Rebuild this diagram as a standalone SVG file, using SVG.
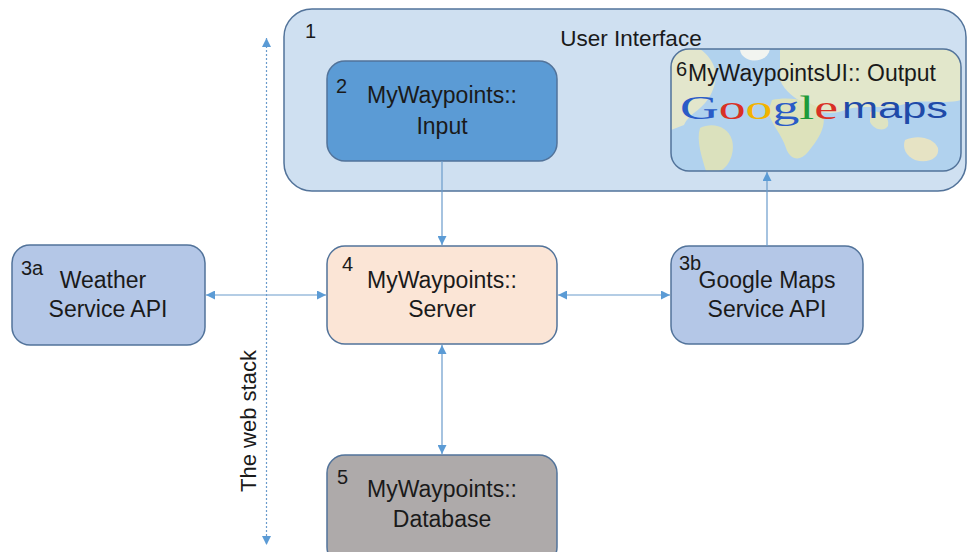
<svg xmlns="http://www.w3.org/2000/svg" width="967" height="552" viewBox="0 0 967 552">
<defs>
<style>
.lbl{font-family:"Liberation Sans","Open Sans",sans-serif;font-size:23px;fill:#1a1a1a;text-anchor:middle}
.num{font-family:"Liberation Sans","Open Sans",sans-serif;font-size:20px;fill:#1a1a1a}
.conn{stroke:#6a9bcc;stroke-width:1.2;fill:none}
.box{stroke:#52739a;stroke-width:1.5}
</style>
<marker id="ah" viewBox="0 0 10 10" refX="10" refY="5" markerWidth="9" markerHeight="9" markerUnits="userSpaceOnUse" orient="auto-start-reverse">
<path d="M0,0 L10,5 L0,10 z" fill="#5b9bd5"/>
</marker>
<clipPath id="mapclip"><rect x="671" y="49" width="290" height="122" rx="18"/></clipPath>
</defs>

<g id="node-ui">
<rect class="box" x="284" y="9" width="682" height="182" rx="28" fill="#cfe0f1"/>
<text class="num" x="305" y="38">1</text>
<text class="lbl" x="631" y="46" style="font-size:22.5px">User Interface</text>
</g>

<g id="node-input">
<rect class="box" x="327" y="61" width="230" height="100" rx="18" fill="#5b9bd5"/>
<text class="num" x="336" y="93">2</text>
<text class="lbl" x="442" y="103">MyWaypoints::</text>
<text class="lbl" x="442" y="134">Input</text>
</g>

<g id="node-output">
<g clip-path="url(#mapclip)">
<rect x="671" y="49" width="290" height="122" fill="#b1d2ee"/>
<path d="M671,49 L700,49 C715,60 720,75 712,92 C704,110 690,112 684,125 L671,130 Z" fill="#e3e6cc"/>
<path d="M700,128 C712,122 728,126 732,140 C736,155 726,171 718,171 L706,171 C702,158 696,140 700,128 Z" fill="#dbe1bd"/>
<path d="M740,49 L770,49 C768,58 760,62 750,60 C744,58 740,54 740,49 Z" fill="#f2f4f0"/>
<path d="M780,49 L961,49 L961,100 C945,105 925,98 905,104 C885,110 860,104 845,110 C830,116 815,112 805,104 C795,98 785,92 780,80 Z" fill="#e2e7cb"/>
<path d="M772,100 C790,96 812,100 822,112 C828,125 818,140 808,152 C800,162 790,160 786,148 C782,135 772,125 768,112 Z" fill="#dde2bb"/>
<path d="M905,140 C918,134 934,138 938,148 C940,158 928,164 915,160 C906,156 902,148 905,140 Z" fill="#e6e3c4"/>
<path d="M870,112 C880,110 890,116 888,126 C884,132 874,130 870,122 Z" fill="#dee3c2"/>
</g>
<rect class="box" x="671" y="49" width="290" height="122" rx="18" fill="none"/>
<text class="num" x="676" y="76">6</text>
<text class="lbl" x="812" y="81" textLength="248" lengthAdjust="spacingAndGlyphs">MyWaypointsUI:: Output</text>
<text x="680" y="119" style="font-family:'Liberation Serif',serif;font-size:34px" textLength="158" lengthAdjust="spacingAndGlyphs"><tspan fill="#2a5bc7">G</tspan><tspan fill="#d93025">o</tspan><tspan fill="#f2b300">o</tspan><tspan fill="#2a5bc7">g</tspan><tspan fill="#1e9b3a">l</tspan><tspan fill="#d93025">e</tspan></text>
<text x="842" y="118" style="font-family:'Liberation Sans',sans-serif;font-size:30px;fill:#1f4aa8" textLength="106" lengthAdjust="spacingAndGlyphs">maps</text>
</g>

<g id="node-weather">
<rect class="box" x="12" y="245" width="193" height="100" rx="18" fill="#b4c7e7"/>
<text class="num" x="21" y="275">3a</text>
<text class="lbl" x="103" y="288">Weather</text>
<text class="lbl" x="108" y="317">Service API</text>
</g>

<g id="node-server">
<rect class="box" x="327" y="246" width="230" height="98" rx="18" fill="#fbe5d6"/>
<text class="num" x="342" y="271">4</text>
<text class="lbl" x="442" y="288">MyWaypoints::</text>
<text class="lbl" x="442" y="317">Server</text>
</g>

<g id="node-gmapi">
<rect class="box" x="671" y="246" width="192" height="98" rx="18" fill="#b4c7e7"/>
<text class="num" x="679" y="270">3b</text>
<text class="lbl" x="767" y="288">Google Maps</text>
<text class="lbl" x="767" y="317">Service API</text>
</g>

<g id="node-database">
<rect class="box" x="327" y="455" width="230" height="110" rx="18" fill="#aeaaaa"/>
<text class="num" x="337" y="484">5</text>
<text class="lbl" x="442" y="497">MyWaypoints::</text>
<text class="lbl" x="442" y="527">Database</text>
</g>

<g id="webstack">
<line x1="266.5" y1="38" x2="266.5" y2="545" class="conn" stroke-dasharray="2,2" marker-start="url(#ah)" marker-end="url(#ah)"/>
<text class="lbl" transform="translate(256,421) rotate(-90)" style="font-size:22px">The web stack</text>
</g>

<g id="connectors">
<line class="conn" x1="442" y1="161" x2="442" y2="245" marker-end="url(#ah)"/>
<line class="conn" x1="206" y1="295" x2="326" y2="295" marker-start="url(#ah)" marker-end="url(#ah)"/>
<line class="conn" x1="558" y1="295" x2="670" y2="295" marker-start="url(#ah)" marker-end="url(#ah)"/>
<line class="conn" x1="442" y1="345" x2="442" y2="454" marker-start="url(#ah)" marker-end="url(#ah)"/>
<line class="conn" x1="767" y1="246" x2="767" y2="172" marker-end="url(#ah)"/>
</g>
</svg>
